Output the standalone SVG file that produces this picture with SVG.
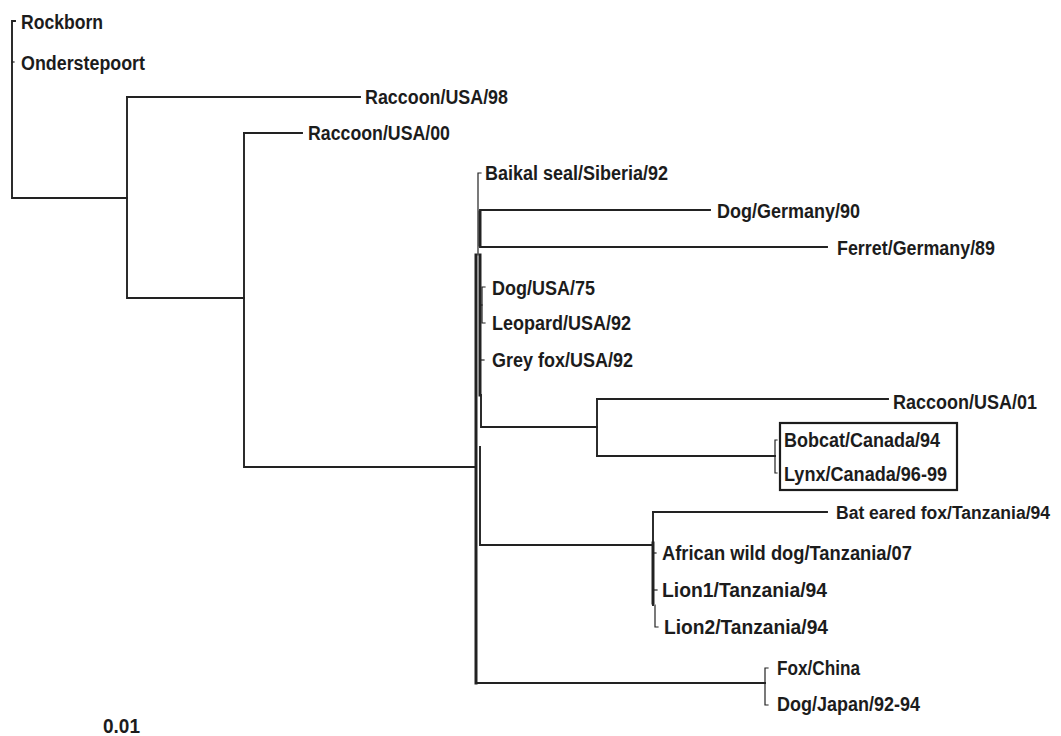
<svg xmlns="http://www.w3.org/2000/svg" width="1061" height="736" viewBox="0 0 1061 736">
<style>
.b{fill:none;stroke:#222;stroke-width:1.9;stroke-linecap:square}
.t{stroke-width:3}
.n{stroke-width:1.2}
text{font-family:"Liberation Sans",Arial,sans-serif;font-weight:bold;font-size:20px;fill:#1c1c1c}
text.s{font-size:17.5px}
.box{fill:none;stroke:#1c1c1c;stroke-width:2.2}
</style>
<rect width="1061" height="736" fill="#fff"/>
<g id="connectors">
<path class="b" d="M15,21 H12 V198 H127"/>
<path class="b n" d="M12,62 H14"/>
<path class="b" d="M127,97 V298 H244"/>
<path class="b" d="M127,97 H360"/>
<path class="b" d="M244,133 V467 H476"/>
<path class="b" d="M244,133 H302"/>
<path class="b n" d="M481,173 H478 V255"/>
<path class="b" d="M480,210 H710"/>
<path class="b" d="M480,247 H827"/>
<path class="b t" d="M480,212 V245"/>
<path class="b t" d="M476,255 V683"/>
<path class="b" d="M476,683 H765"/>
<path class="b t" d="M480,255 V395"/>
<path class="b" d="M481,395 V427 H597"/>
<path class="b n" d="M485,287 H482 V323 H485"/>
<path class="b n" d="M481,305 H482"/>
<path class="b n" d="M481,360 H484"/>
<path class="b" d="M597,399 V456"/>
<path class="b" d="M597,399 H888"/>
<path class="b" d="M597,456 H775"/>
<path class="b n" d="M777,440 H775 V473 H777"/>
<path class="b" d="M480,447 V545 H653"/>
<path class="b" d="M653,512 H827"/>
<path class="b" d="M653,512 V605"/>
<path class="b t" d="M653,543 V603"/>
<path class="b n" d="M653,553 H656"/>
<path class="b n" d="M653,590 H657"/>
<path class="b n" d="M655,605 V627 H658"/>
<path class="b n" d="M768,668 H765 V705 H768"/>
</g>
<rect class="box" x="780" y="423" width="177" height="67"/>
<g id="n-rockborn"><text x="21" y="29" textLength="82" lengthAdjust="spacingAndGlyphs">Rockborn</text></g>
<g id="n-onderstepoort"><text x="21" y="70" textLength="124" lengthAdjust="spacingAndGlyphs">Onderstepoort</text></g>
<g id="n-raccoon98"><text x="365" y="104" textLength="143" lengthAdjust="spacingAndGlyphs">Raccoon/USA/98</text></g>
<g id="n-raccoon00"><text x="308" y="140" textLength="142" lengthAdjust="spacingAndGlyphs">Raccoon/USA/00</text></g>
<g id="n-baikal"><text x="485" y="180" textLength="183" lengthAdjust="spacingAndGlyphs">Baikal seal/Siberia/92</text></g>
<g id="n-doggermany"><text x="717" y="218" textLength="143" lengthAdjust="spacingAndGlyphs">Dog/Germany/90</text></g>
<g id="n-ferret"><text x="837" y="255" textLength="158" lengthAdjust="spacingAndGlyphs">Ferret/Germany/89</text></g>
<g id="n-dogusa"><text x="492" y="295" textLength="103" lengthAdjust="spacingAndGlyphs">Dog/USA/75</text></g>
<g id="n-leopard"><text x="492" y="330" textLength="139" lengthAdjust="spacingAndGlyphs">Leopard/USA/92</text></g>
<g id="n-greyfox"><text x="492" y="367" textLength="141" lengthAdjust="spacingAndGlyphs">Grey fox/USA/92</text></g>
<g id="n-raccoon01"><text x="893" y="409" textLength="144" lengthAdjust="spacingAndGlyphs">Raccoon/USA/01</text></g>
<g id="n-bobcat"><text x="784" y="447" textLength="156" lengthAdjust="spacingAndGlyphs">Bobcat/Canada/94</text></g>
<g id="n-lynx"><text x="784" y="481" textLength="163" lengthAdjust="spacingAndGlyphs">Lynx/Canada/96-99</text></g>
<g id="n-batearedfox"><text class="s" x="836" y="519" textLength="214" lengthAdjust="spacingAndGlyphs">Bat eared fox/Tanzania/94</text></g>
<g id="n-africanwilddog"><text x="662" y="560" textLength="250" lengthAdjust="spacingAndGlyphs">African wild dog/Tanzania/07</text></g>
<g id="n-lion1"><text x="662" y="597" textLength="165" lengthAdjust="spacingAndGlyphs">Lion1/Tanzania/94</text></g>
<g id="n-lion2"><text x="664" y="634" textLength="164" lengthAdjust="spacingAndGlyphs">Lion2/Tanzania/94</text></g>
<g id="n-foxchina"><text x="777" y="675" textLength="83" lengthAdjust="spacingAndGlyphs">Fox/China</text></g>
<g id="n-dogjapan"><text x="777" y="711" textLength="143" lengthAdjust="spacingAndGlyphs">Dog/Japan/92-94</text></g>
<g id="scale"><text x="103" y="733" textLength="37" lengthAdjust="spacingAndGlyphs">0.01</text></g>
</svg>
